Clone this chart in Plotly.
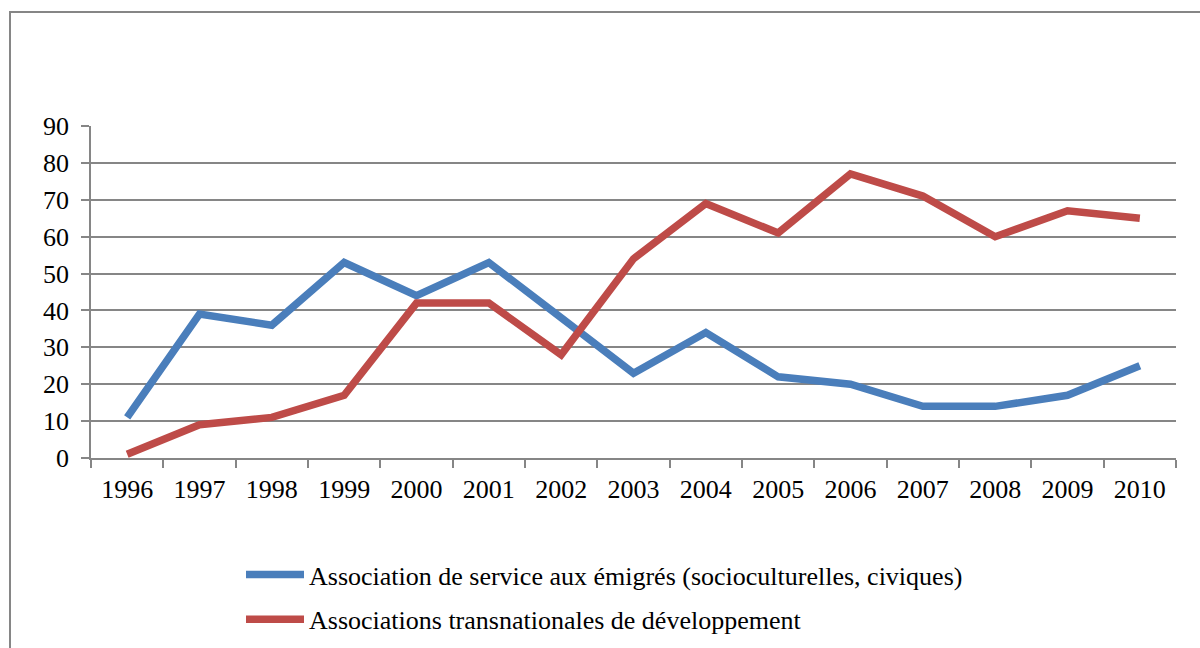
import plotly.graph_objects as go

years = [str(y) for y in range(1996, 2011)]
service = [11, 39, 36, 53, 44, 53, 38, 23, 34, 22, 20, 14, 14, 17, 25]
transnat = [1, 9, 11, 17, 42, 42, 28, 54, 69, 61, 77, 71, 60, 67, 65]
names = ["Association de service aux émigrés (socioculturelles, civiques)",
         "Associations transnationales de développement"]
colors = ["#4A7EBB", "#BE4B48"]

fig = go.Figure()
for i, (vals, name, col) in enumerate(zip([service, transnat], names, colors)):
    fig.add_trace(go.Scatter(x=years, y=vals, name=name, mode="lines",
                             legendgroup=f"g{i}",
                             line=dict(color=col, width=7.5)))

W, H = 1200, 648
L, R, T, B = 91, 24, 126, 190
X0, X1, Y0, Y1 = 91, 1176, 458, 126  # plot area pixels (target)

def px2x(px):
    return (px - X0) / (X1 - X0)

def py2y(py):
    return (Y0 - py) / (Y0 - Y1)

grid = "#868686"
font = dict(family="Liberation Serif, Times New Roman, serif", size=26, color="#000000")

fig.update_layout(
    width=W, height=H,
    margin=dict(l=L, r=R, t=T, b=B, autoexpand=False),
    paper_bgcolor="white", plot_bgcolor="white",
    font=font,
    showlegend=True,
    legend=dict(xref="paper", yref="container",
                x=px2x(241), y=(H - 551) / H, xanchor="left", yanchor="top",
                orientation="v", itemwidth=58, font=font,
                bgcolor="rgba(0,0,0,0)", tracegroupgap=8),
    xaxis=dict(type="category", showgrid=False, showline=True, linecolor=grid,
               linewidth=1.5, ticks="outside", tickson="boundaries", ticklen=8,
               tickcolor=grid, tickwidth=1.5, tickfont=font, range=[-0.5, 14.5],
               ticklabelstandoff=7, automargin=False),
    yaxis=dict(range=[0, 90], dtick=10, showgrid=True, gridcolor=grid, gridwidth=1.5,
               showline=True, linecolor=grid, linewidth=1.5, ticks="outside",
               ticklen=8, tickcolor=grid, tickwidth=1.5, tickfont=font,
               zeroline=False, ticklabelstandoff=7, automargin=False),
    shapes=[dict(type="rect", xref="paper", yref="paper",
                 x0=px2x(10), x1=px2x(1260), y0=py2y(720), y1=py2y(12),
                 line=dict(color="#868686", width=2), fillcolor="rgba(0,0,0,0)",
                 layer="below")],
)

fig.write_html("out.html", config={"displayModeBar": False},
               post_script="document.body.style.margin='0';document.body.style.overflow='hidden';")
